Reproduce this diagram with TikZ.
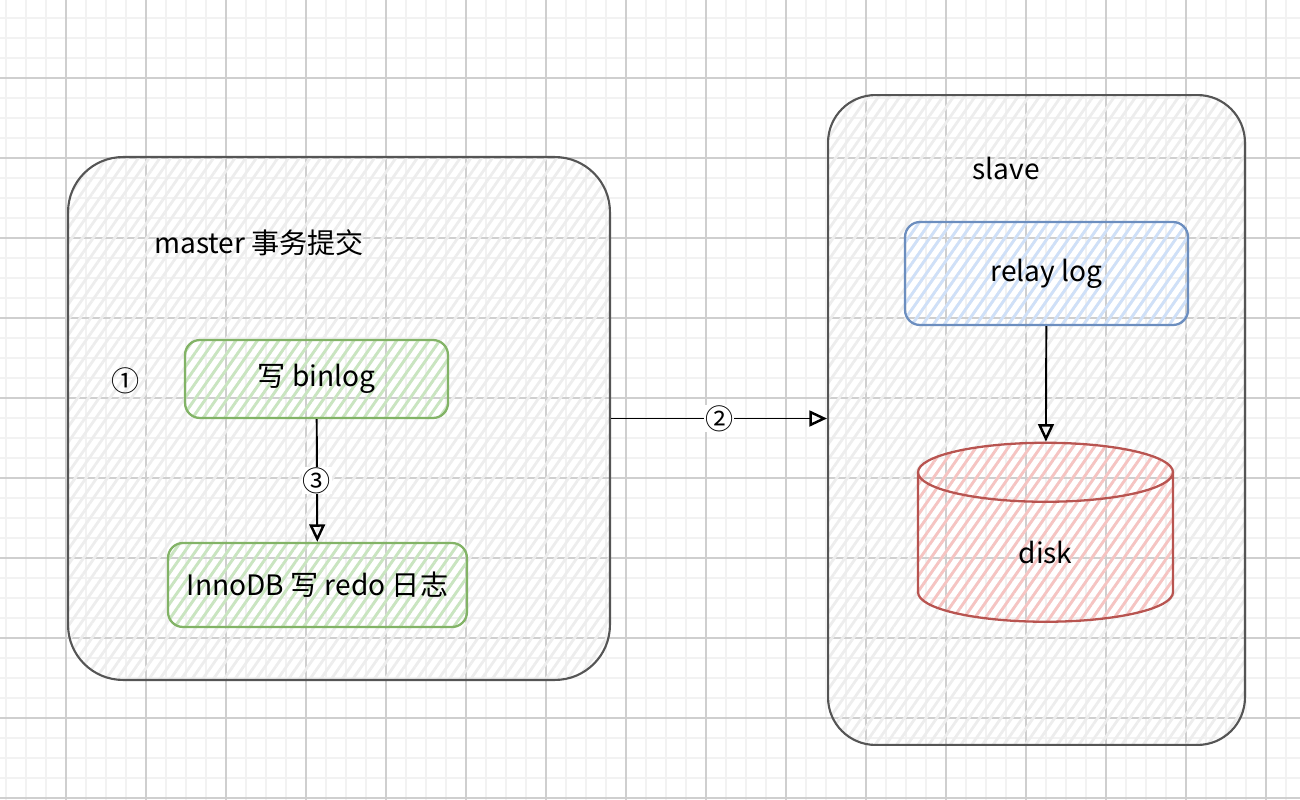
\documentclass[tikz,border=0pt]{standalone}
\usepackage{fontspec}
\setmainfont{Noto Sans CJK SC}
\usetikzlibrary{positioning}
\usetikzlibrary{arrows.meta,shapes.geometric}
\usetikzlibrary{patterns.meta}
\definecolor{gridminor}{HTML}{F2F2F2}
\definecolor{gridmajor}{HTML}{CFCFCF}
\definecolor{greenline}{HTML}{82B366}
\definecolor{greenfill}{HTML}{C9E5C0}
\definecolor{blueline}{HTML}{6C8EBF}
\definecolor{bluefill}{HTML}{CFE0F8}
\definecolor{redline}{HTML}{B85450}
\definecolor{redfill}{HTML}{F6C4C2}
\definecolor{greyline}{HTML}{555555}
\definecolor{greyfill}{HTML}{EDEDED}
\tikzstyle{hatch}=[pattern={Lines[angle=55,distance=5pt,line width=1.6pt]}]
\tikzstyle{bigtext}=[font=\fontsize{16}{18}\selectfont]
\tikzstyle{serverbox}=[draw=greyline,line width=1.2pt,hatch,pattern color=greyfill,inner sep=0pt]
\tikzstyle{greenbox}=[draw=greenline,line width=1.3pt,hatch,pattern color=greenfill,rounded corners=0.3cm,bigtext]
\tikzstyle{bluebox}=[draw=blueline,line width=1.3pt,hatch,pattern color=bluefill,rounded corners=0.3cm,bigtext]
\tikzstyle{diskshape}=[cylinder,shape border rotate=90,aspect=0.9,draw=redline,line width=1.3pt,hatch,pattern color=redfill,bigtext]
\tikzstyle{edge} = [draw,line width=1.1pt,-{Triangle[open,length=10pt,width=9pt,line width=1.4pt]}]
\tikzstyle{step label} = [bigtext,fill=white,inner sep=0.5pt]

\begin{document}
\begin{tikzpicture}[x=0.02cm,y=-0.02cm]
    \useasboundingbox (0,0) rectangle (1300,800);
    % grid in the background
    \foreach \x in {6,26,...,1300}
        \draw[gridminor,line width=1.1pt] (\x,0) -- (\x,800);
    \foreach \y in {18,38,...,800}
        \draw[gridminor,line width=1.1pt] (0,\y) -- (1300,\y);
    \foreach \x in {66,146,...,1300}
        \draw[gridmajor,line width=0.6pt] (\x,0) -- (\x,800);
    \foreach \y in {78,158,...,800}
        \draw[gridmajor,line width=0.6pt] (0,\y) -- (1300,\y);

    % the two servers
    \node[serverbox,rounded corners=1.1cm,minimum width=10.84cm,minimum height=10.46cm] (master) at (339,418.5) {};
    \node[serverbox,rounded corners=0.95cm,minimum width=8.34cm,minimum height=13cm] (slave) at (1036.5,420) {};
    \node[bigtext,anchor=west] (mastertitle) at (148,243) {master 事务提交};
    \node[bigtext] (slavetitle) at (1006,168) {slave};

    % steps on the master
    \node[greenbox,minimum width=5.26cm,minimum height=1.56cm] (binlog) at (316.5,379) {写 binlog};
    \node[greenbox,minimum width=5.98cm,minimum height=1.68cm] (redo) at (317.5,585) {InnoDB 写 redo 日志};
    \node[bigtext] (n1) at (126,381) {①};

    % slave side
    \node[bluebox,minimum width=5.66cm,minimum height=2.06cm] (relay) at (1046.5,273.5) {relay log};
    \node[diskshape,minimum width=5.1cm,minimum height=3.58cm] (disk) at (1045.5,552) {disk};

    % connect everything
    \path[edge] (binlog) -- node[step label] (n3) {③} (redo);
    \path[edge] (master.east) -- node[step label] (n2) {②} (master.east -| slave.west);
    \path[edge] (relay) -- (disk);
\end{tikzpicture}
\end{document}
